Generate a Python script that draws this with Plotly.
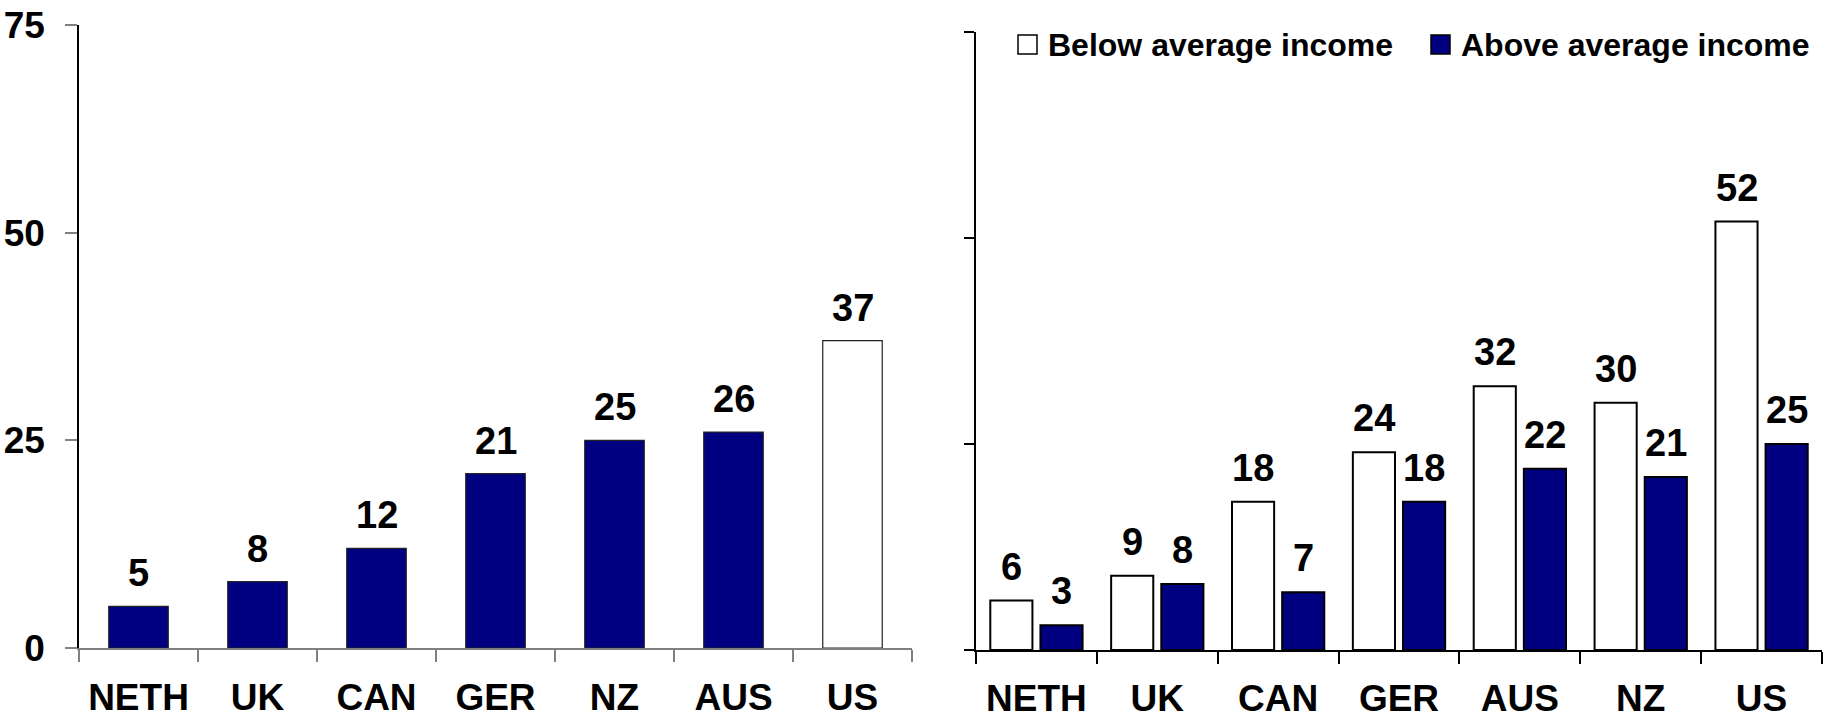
import plotly.graph_objects as go

# Left panel: overall rates by country
left_countries = ["NETH", "UK", "CAN", "GER", "NZ", "AUS", "US"]
left_values = [5, 8, 12, 21, 25, 26, 37]

# Right panel: rates by income group
right_countries = ["NETH", "UK", "CAN", "GER", "AUS", "NZ", "US"]
below_avg = [6, 9, 18, 24, 32, 30, 52]
above_avg = [3, 8, 7, 18, 22, 21, 25]
series_names = ["Below average income", "Above average income"]

y_ticks = [0, 25, 50, 75]

NAVY = "#000080"
WHITE = "#ffffff"
FONT = "Arial, Liberation Sans, sans-serif"

W, H = 1827, 722

fig = go.Figure()

# Left chart bars: US highlighted in white
left_colors = [WHITE if c == "US" else NAVY for c in left_countries]
fig.add_trace(go.Bar(
    x=left_countries, y=left_values, width=0.5,
    marker=dict(color=left_colors, line=dict(color="#222222", width=1.2)),
    xaxis="x", yaxis="y", showlegend=False, hoverinfo="x+y",
))

# Right chart grouped bars
fig.add_trace(go.Bar(
    x=right_countries, y=below_avg, name=series_names[0],
    marker=dict(color=WHITE, line=dict(color="#000000", width=2)),
    xaxis="x2", yaxis="y2", showlegend=False,
))
fig.add_trace(go.Bar(
    x=right_countries, y=above_avg, name=series_names[1],
    marker=dict(color=NAVY, line=dict(color="#000000", width=2)),
    xaxis="x2", yaxis="y2", showlegend=False,
))

annotations = []
label_font = dict(family=FONT, size=38, color="#000000", weight="bold")

for c, v in zip(left_countries, left_values):
    annotations.append(dict(
        x=c, y=v, xref="x", yref="y", text=str(v), showarrow=False,
        yanchor="bottom", yshift=10, font=label_font,
    ))

for vals, shift in ((below_avg, -25), (above_avg, 25)):
    for c, v in zip(right_countries, vals):
        annotations.append(dict(
            x=c, y=v, xref="x2", yref="y2", text=str(v), showarrow=False,
            yanchor="bottom", yshift=11, xshift=shift, font=label_font,
        ))

# Legend drawn as swatches with text
legend_items = [
    (series_names[0], WHITE, 1018),
    (series_names[1], NAVY, 1431),
]
shapes = []
for name, color, px in legend_items:
    shapes.append(dict(
        type="rect", xref="paper", yref="paper",
        x0=px / W, x1=(px + 19) / W, y0=1 - 54 / H, y1=1 - 35 / H,
        fillcolor=color, line=dict(color="#000000", width=1.5),
    ))
    annotations.append(dict(
        x=(px + 28) / W, y=1 - 45 / H, xref="paper", yref="paper",
        text=name, showarrow=False, xanchor="left", yanchor="middle",
        font=dict(family=FONT, size=32, color="#000000", weight="bold"),
    ))

tick_font = dict(family=FONT, size=37, color="#000000", weight="bold")

common = dict(showgrid=False, zeroline=False, automargin=False, fixedrange=True)

fig.update_layout(
    width=W, height=H,
    margin=dict(l=0, r=0, t=0, b=0, autoexpand=False),
    paper_bgcolor="white", plot_bgcolor="white",
    bargap=0.17, bargroupgap=0.16, barmode="group",
    font=dict(family=FONT),
    xaxis=dict(
        domain=[79 / W, 912 / W], anchor="y", type="category",
        showline=True, linecolor="#808080", linewidth=1.5,
        ticks="outside", ticklen=12, tickcolor="#808080", tickwidth=1.5,
        tickson="boundaries", tickfont=tick_font,
        ticklabelstandoff=16, **common,
    ),
    yaxis=dict(
        domain=[1 - 648 / H, 1 - 25 / H], anchor="x",
        range=[0, 75], tickvals=y_ticks,
        showline=True, linecolor="#000000", linewidth=1.5,
        ticks="outside", ticklen=12, tickcolor="#808080", tickwidth=1.5,
        tickfont=tick_font, ticklabelstandoff=13, **common,
    ),
    xaxis2=dict(
        domain=[976 / W, 1822 / W], anchor="y2", type="category",
        showline=True, linecolor="#000000", linewidth=2,
        ticks="outside", ticklen=12, tickcolor="#000000", tickwidth=2,
        tickson="boundaries", tickfont=tick_font,
        ticklabelstandoff=15, **common,
    ),
    yaxis2=dict(
        domain=[1 - 650 / H, 1 - 32 / H], anchor="x2",
        range=[0, 75], tickvals=y_ticks, showticklabels=False,
        showline=True, linecolor="#000000", linewidth=2,
        ticks="outside", ticklen=10, tickcolor="#000000", tickwidth=2,
        **common,
    ),
    annotations=annotations,
    shapes=shapes,
)

fig.write_html("out.html")
